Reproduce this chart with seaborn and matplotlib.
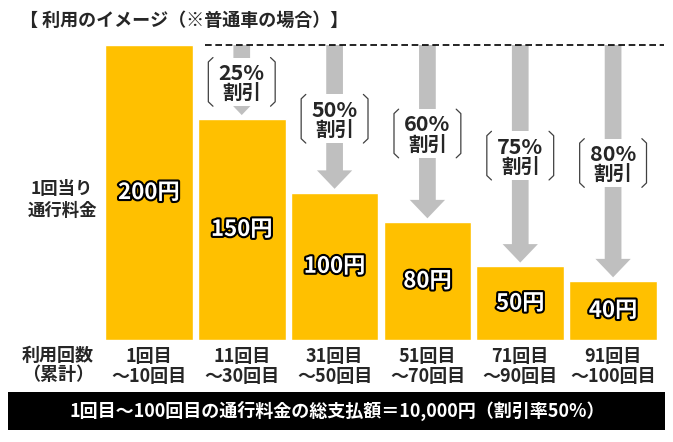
import matplotlib
matplotlib.use("Agg")
import matplotlib.pyplot as plt
import matplotlib.patheffects as pe
import seaborn as sns
import pandas as pd

# Data
ranges = ["1回目\n～10回目", "11回目\n～30回目", "31回目\n～50回目",
          "51回目\n～70回目", "71回目\n～90回目", "91回目\n～100回目"]
fees = [200, 150, 100, 80, 50, 40]
discounts = ["", "25%", "50%", "60%", "75%", "80%"]
value_labels = ["200円", "150円", "100円", "80円", "50円", "40円"]

title = "【 利用のイメージ（※普通車の場合）】"
ylabel = "1回当り\n通行料金"
xlabel = "利用回数\n（累計）"
summary = "1回目～100回目の通行料金の総支払額＝10,000円（割引率50%）"

df = pd.DataFrame({"range": ranges, "fee": fees})

sns.set_theme(style="white")
plt.rcParams["font.family"] = ["Noto Sans CJK JP", "DejaVu Sans"]

fig = plt.figure(figsize=(6.73, 4.42), dpi=100)
ax = fig.add_axes([102.5 / 673, 102 / 442, 557 / 673, 295 / 442])

sns.barplot(data=df, x="range", y="fee", color="#FFC000", saturation=1,
            width=0.945, ax=ax, zorder=2)
ax.set_xlim(-0.5, 5.5)
ax.set_ylim(0, 200)
sns.despine(ax=ax, left=True, bottom=True)
ax.set_yticks([])
ax.set_xlabel("")
ax.set_ylabel("")
ax.tick_params(axis="x", length=0, pad=5)
for lab in ax.get_xticklabels():
    lab.set_fontsize(13)
    lab.set_fontweight("bold")
    lab.set_linespacing(1.05)

top = fees[0]
# dashed reference line at the first-tier fee
ax.plot([0.6, 5.55], [top, top], ls=(0, (4, 2.2)), color="black", lw=1.2,
        clip_on=False, zorder=3)

hw, hh = 0.36, 16.5
hook_x, hook_y = 0.05, 3.0
for i, (v, d, vl) in enumerate(zip(fees, discounts, value_labels)):
    # value labels inside bars
    ax.text(i, v / 2, vl, ha="center", va="center", color="white",
            fontsize=16, fontweight="bold", zorder=5,
            path_effects=[pe.withStroke(linewidth=3, foreground="black")])
    if not d:
        continue
    # reduction arrow
    ax.arrow(i, top, 0, -(top - v - 2.5), width=0.18, head_width=0.38,
             head_length=12.5, length_includes_head=True, color="#BFBFBF",
             lw=0, zorder=1)
    # discount label with brackets
    yc = (top + v) / 2
    ax.add_patch(plt.Rectangle((i - hw, yc - hh), 2 * hw, 2 * hh,
                               facecolor="white", edgecolor="none", zorder=3))
    ax.text(i, yc + 5.8, d, ha="center", va="center", fontsize=15.5,
            fontweight="bold", zorder=4)
    ax.text(i, yc - 8.0, "割引", ha="center", va="center", fontsize=14,
            fontweight="bold", zorder=4)
    for s in (-1, 1):
        ax.plot([i + s * (hw - hook_x), i + s * hw, i + s * hw, i + s * (hw - hook_x)],
                [yc + hh, yc + hh - hook_y, yc - hh + hook_y, yc - hh],
                color="#404040", lw=0.9, zorder=4, clip_on=False)

fig.text(20 / 673, 1 - 20 / 442, title, ha="left", va="center",
         fontsize=13, fontweight="bold")
fig.text(62 / 673, 1 - 200 / 442, ylabel, ha="center", va="center",
         fontsize=12.5, fontweight="bold", linespacing=1.3)
fig.text(58 / 673, 1 - 365 / 442, xlabel, ha="center", va="center",
         fontsize=13, fontweight="bold", linespacing=1.05)

# summary banner
fig.patches.append(plt.Rectangle((8 / 673, 1 - 430 / 442), 657 / 673, 38 / 442,
                                 transform=fig.transFigure, facecolor="black",
                                 edgecolor="none"))
fig.text(337 / 673, 1 - 411 / 442, summary, ha="center", va="center",
         color="white", fontsize=13, fontweight="bold")

fig.savefig("out.png", dpi=100)
